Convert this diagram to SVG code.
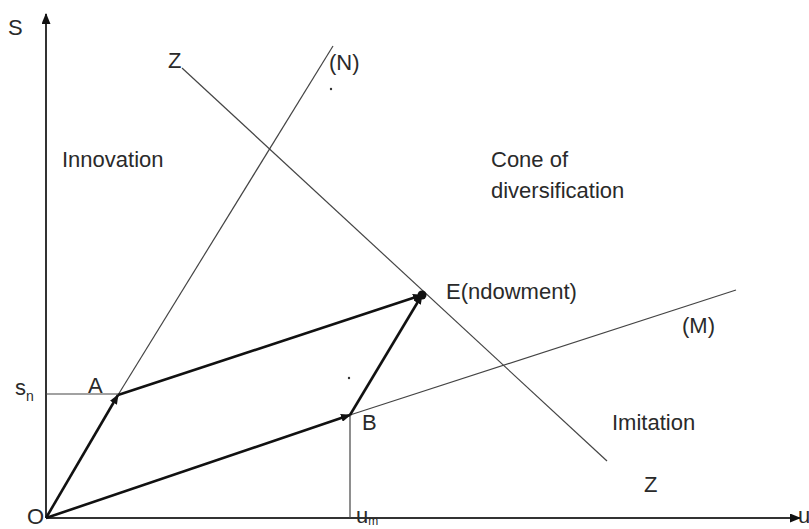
<svg xmlns="http://www.w3.org/2000/svg" width="809" height="529" viewBox="0 0 809 529">
<defs>
<style>
text{font-family:"Liberation Sans",Arial,sans-serif;font-size:22px;fill:#2a2a2a}
.ax{stroke:#333;stroke-width:2;fill:none}
.thin{stroke:#444;stroke-width:1.2;fill:none}
.vec{stroke:#111;stroke-width:2.6;fill:none}
</style>
<marker id="ah" markerWidth="10" markerHeight="8" refX="9" refY="4" orient="auto" markerUnits="userSpaceOnUse"><path d="M0,0 L10,4 L0,8 Z" fill="#111"/></marker>
<marker id="axh" markerWidth="11" markerHeight="9" refX="10" refY="4.5" orient="auto" markerUnits="userSpaceOnUse"><path d="M0,0 L11,4.5 L0,9 Z" fill="#111"/></marker>
</defs>
<rect width="809" height="529" fill="#fff"/>
<g id="connectors">
<line class="ax" x1="46" y1="518" x2="46" y2="14" marker-end="url(#axh)"/>
<line class="ax" x1="46" y1="518" x2="800" y2="518" marker-end="url(#axh)"/>
<line class="thin" x1="46" y1="394" x2="118" y2="394"/>
<line class="thin" x1="350" y1="415" x2="350" y2="518"/>
<line class="thin" x1="118" y1="395" x2="333" y2="46"/>
<line class="thin" x1="182" y1="68" x2="607" y2="461"/>
<line class="thin" x1="350" y1="415" x2="736" y2="290"/>
<line class="vec" x1="46" y1="518" x2="118" y2="395" marker-end="url(#ah)"/>
<line class="vec" x1="46" y1="518" x2="350" y2="415" marker-end="url(#ah)"/>
<line class="vec" x1="118" y1="395" x2="422" y2="295" marker-end="url(#ah)"/>
<line class="vec" x1="350" y1="415" x2="422" y2="295" marker-end="url(#ah)"/>
</g>
<g id="E"><circle cx="422" cy="295" r="4.5" fill="#111"/><text x="446" y="299">E(ndowment)</text></g>
<g id="A"><text x="88" y="393">A</text></g>
<g id="B"><text x="362" y="430">B</text></g>
<g id="O"><text x="27" y="524">O</text></g>
<g id="labels">
<text x="8" y="35">S</text>
<text x="168" y="68" font-size="20">Z</text>
<text x="329" y="70">(N)</text>
<circle cx="331" cy="89" r="1.2" fill="#333"/>
<circle cx="349" cy="378" r="1.2" fill="#333"/>
<text x="62" y="167" font-size="23">Innovation</text>
<text x="491" y="167" font-size="23">Cone of</text>
<text x="491" y="198" font-size="23">diversification</text>
<text x="682" y="333">(M)</text>
<text x="15" y="395">s<tspan font-size="14" dy="6">n</tspan></text>
<text x="612" y="430">Imitation</text>
<text x="644" y="492" font-size="20">Z</text>
<text x="356" y="523" font-size="20">u<tspan font-size="12" dy="2">m</tspan></text>
<text x="798" y="523" font-size="16">u</text>
</g>
</svg>
